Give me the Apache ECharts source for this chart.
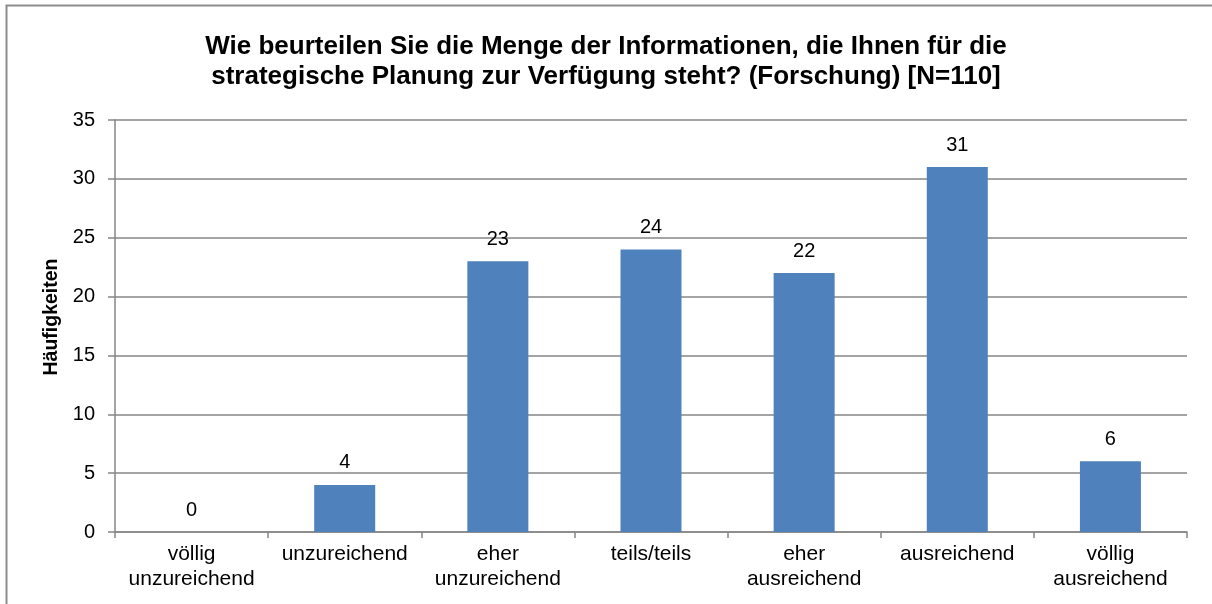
<!DOCTYPE html>
<html>
<head>
<meta charset="utf-8">
<script src="https://cdn.jsdelivr.net/npm/echarts@6/dist/echarts.min.js"></script>
<style>
html, body { margin: 0; padding: 0; background: #fff; }
#chart { width: 1212px; height: 604px; }
</style>
</head>
<body>
<div id="chart"></div>
<script>
// Kategorien und Häufigkeiten
const categories = ['völlig\nunzureichend', 'unzureichend', 'eher\nunzureichend', 'teils/teils', 'eher\nausreichend', 'ausreichend', 'völlig\nausreichend']
const counts = [0, 4, 23, 24, 22, 31, 6]

const chart = echarts.init(document.getElementById('chart'))
const font = 'Liberation Sans, Arial, sans-serif'

const option = {
  animation: false,
  title: {
    text: 'Wie beurteilen Sie die Menge der Informationen, die Ihnen für die\nstrategische Planung zur Verfügung steht? (Forschung) [N=110]',
    left: 'center',
    top: 27,
    textStyle: { fontFamily: font, fontSize: 26, fontWeight: 'bold', color: '#000', lineHeight: 30 }
  },
  graphic: [{
    type: 'rect',
    shape: { x: 6.5, y: 5.5, width: 1220, height: 620 },
    style: { fill: 'none', stroke: '#8c8c8c', lineWidth: 2 },
    silent: true
  }],
  grid: { left: 115, right: 25, top: 120, bottom: 72 },
  xAxis: {
    type: 'category',
    data: categories,
    axisLine: { lineStyle: { color: '#868686', width: 1.5 } },
    axisTick: { show: true, length: 6, lineStyle: { color: '#868686', width: 1.5 } },
    axisLabel: { fontFamily: font, fontSize: 21, color: '#000', lineHeight: 25, margin: 10, interval: 0 }
  },
  yAxis: {
    type: 'value',
    min: 0,
    max: 35,
    interval: 5,
    name: 'Häufigkeiten',
    nameLocation: 'middle',
    nameGap: 48,
    nameTextStyle: { fontFamily: font, fontSize: 19.5, fontWeight: 'bold', color: '#000', padding: [0, 0, 0, 18] },
    axisLine: { show: true, lineStyle: { color: '#868686', width: 1.5 } },
    axisTick: { show: true, length: 7, lineStyle: { color: '#868686', width: 1.5 } },
    axisLabel: { fontFamily: font, fontSize: 20, color: '#000', margin: 20 },
    splitLine: { lineStyle: { color: '#868686', width: 1.5 } }
  },
  series: [{
    type: 'bar',
    data: counts,
    barWidth: 61,
    itemStyle: { color: '#4F81BD' },
    label: {
      show: true,
      position: 'top',
      distance: 12,
      fontFamily: font,
      fontSize: 20,
      color: '#000'
    }
  }]
}
chart.setOption(option)
</script>
</body>
</html>
